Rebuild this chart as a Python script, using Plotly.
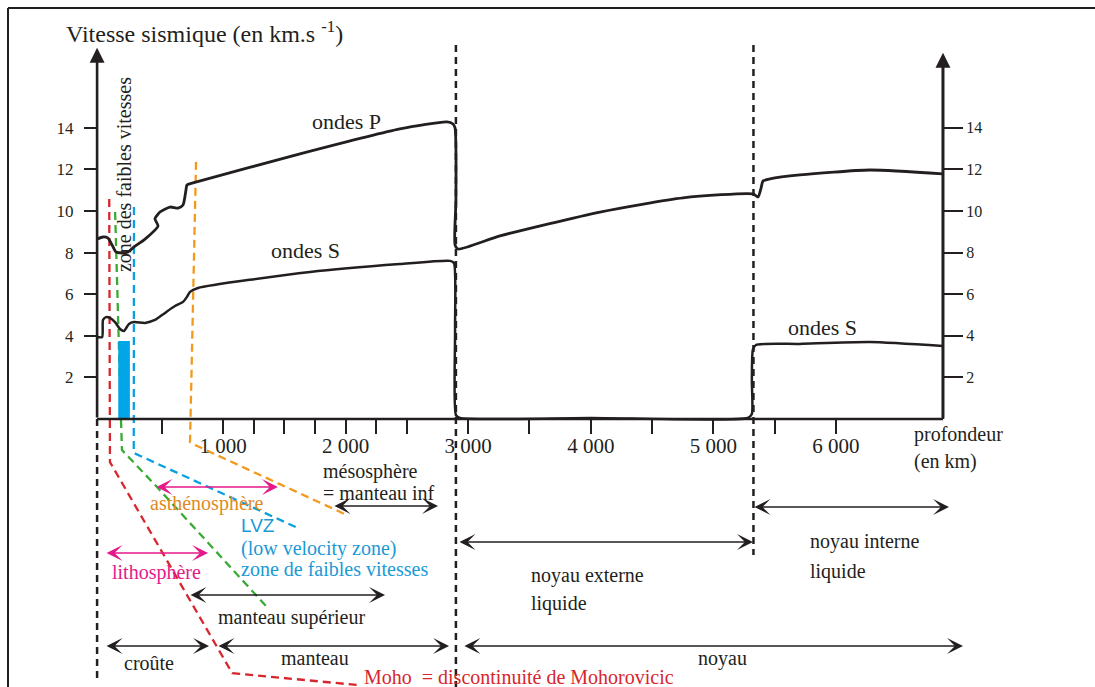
import plotly.graph_objects as go

# ---------------- data (depth in km, velocity in km/s) ----------------
p_depth = [-27, 21, 62, 95, 127, 176, 225, 274, 364, 470, 445, 486, 568, 633, 674, 698, 706, 755,
           1628, 2443, 2827, 2876, 2893, 2900, 2893, 2918, 3259, 4075, 4753, 5324, 5364, 5389, 5405,
           5462, 5706, 6277, 6873]
p_vel = [8.65, 8.75, 8.70, 8.37, 8.03, 7.98, 8.03, 8.27, 8.65, 9.28, 9.62, 9.95, 10.19, 10.14, 10.29,
         11.01, 11.25, 11.35, 12.74, 13.94, 14.28, 14.18, 13.99, 10.53, 8.37, 8.17, 8.8, 9.95, 10.63,
         10.82, 10.67, 11.1, 11.44, 11.54, 11.73, 11.97, 11.78]

s_depth = [-27, 14, 21, 46, 78, 119, 160, 192, 233, 274, 364, 445, 527, 608, 674, 706, 731, 796,
           1710, 2443, 2852, 2884, 2893, 2900, 2932, 4000, 5281, 5314, 5314, 5322, 5347, 5706, 6277, 6873]
s_vel = [3.94, 3.94, 4.76, 4.9, 4.86, 4.66, 4.33, 4.23, 4.57, 4.66, 4.62, 4.76, 5.1, 5.43, 5.63, 5.87,
         6.11, 6.3, 7.07, 7.45, 7.6, 7.5, 4.28, 0.19, 0.05, 0.05, 0.05, 0.24, 1.88, 3.32, 3.56, 3.61, 3.7, 3.51]

# guide lines (dashed, coloured)
moho_depth = [72, 72, 78, 1075, 2103]
moho_val = [10.58, -0.38, -2.07, -12.21, -12.79]
litho_depth = [120, 144, 168, 176, 462, 1359]
litho_val = [9.95, 4.28, -0.05, -1.49, -3.27, -9.04]
lvz_line_depth = [274, 272, 272, 347, 1611]
lvz_line_val = [10.19, 0, -1.63, -1.83, -5.24]
astheno_depth = [780, 731, 731, 772, 2012]
astheno_val = [12.36, 0.1, -1.11, -1.25, -4.62]

# low velocity zone bar
lvz_center = 193
lvz_width = 95
lvz_height = 3.75

# discontinuities
left_axis_depth = -27
right_axis_depth = 6873
cmb_depth = 2900
icb_depth = 5327

# ticks
y_ticks = [2, 4, 6, 8, 10, 12, 14]
x_ticks = [500, 1000, 1250, 1500, 1750, 2000, 2250, 2500, 3000, 3500, 4000, 4500, 5000, 5500, 6000]
x_tick_labels = ["", "1 000", "", "", "", "2 000", "", "", "3 000", "", "4 000", "", "5 000", "", "6 000"]

X_RANGE = [-819, 8113]
Y_RANGE = [-12.88, 20.14]

INK = "#231f20"
RED = "#d7262d"
GREEN = "#3aaa35"
BLUE = "#0aa0e0"
ORANGE = "#f39a1e"
MAGENTA = "#e5198a"
SERIF = "Liberation Serif"

fig = go.Figure()

# dashed black discontinuity lines
dash_black = "7px,5px"
fig.add_trace(go.Scatter(x=[left_axis_depth, left_axis_depth], y=[0, -12.55], mode="lines",
                         line=dict(color=INK, width=2.5, dash=dash_black)))
fig.add_trace(go.Scatter(x=[cmb_depth, cmb_depth], y=[17.98, Y_RANGE[0]], mode="lines",
                         line=dict(color=INK, width=2.5, dash=dash_black)))
fig.add_trace(go.Scatter(x=[icb_depth, icb_depth], y=[17.98, -6.54], mode="lines",
                         line=dict(color=INK, width=2.5, dash=dash_black)))

# coloured dashed guide lines
dash_col = "8px,5px"
for xs, ys, col in [(moho_depth, moho_val, RED), (litho_depth, litho_val, GREEN),
                    (lvz_line_depth, lvz_line_val, BLUE), (astheno_depth, astheno_val, ORANGE)]:
    fig.add_trace(go.Scatter(x=xs, y=ys, mode="lines", line=dict(color=col, width=2.3, dash=dash_col)))

# LVZ bar (filled rectangle drawn above the guide lines)
x0 = lvz_center - lvz_width / 2
x1 = lvz_center + lvz_width / 2
fig.add_trace(go.Scatter(x=[x0, x0, x1, x1, x0], y=[0, lvz_height, lvz_height, 0, 0], mode="lines",
                         fill="toself", fillcolor="#00a6e6", line=dict(width=0, color="#00a6e6")))

# velocity curves
fig.add_trace(go.Scatter(x=p_depth, y=p_vel, mode="lines",
                         line=dict(color=INK, width=2.8, shape="spline", smoothing=0.6)))
fig.add_trace(go.Scatter(x=s_depth, y=s_vel, mode="lines",
                         line=dict(color=INK, width=2.5, shape="spline", smoothing=0.6)))

# axes lines
fig.add_trace(go.Scatter(x=[left_axis_depth, right_axis_depth], y=[0, 0], mode="lines",
                         line=dict(color=INK, width=2.6)))
fig.add_trace(go.Scatter(x=[right_axis_depth, right_axis_depth], y=[0, 17.0], mode="lines",
                         line=dict(color=INK, width=2.6), yaxis="y2"))

annotations = []
# axis arrows
annotations.append(dict(x=left_axis_depth, y=17.84, ax=left_axis_depth, ay=0, xref="x", yref="y",
                        axref="x", ayref="y", text="", showarrow=True, arrowhead=2,
                        arrowwidth=2.6, arrowsize=1.15, arrowcolor=INK))
annotations.append(dict(x=right_axis_depth, y=17.6, ax=right_axis_depth, ay=0, xref="x", yref="y",
                        axref="x", ayref="y", text="", showarrow=True, arrowhead=2,
                        arrowwidth=2.6, arrowsize=1.15, arrowcolor=INK))


def darrow(x0, x1, y, col=INK):
    annotations.append(dict(x=x1, y=y, ax=x0, ay=y, xref="x", yref="y", axref="x", ayref="y",
                            text="", showarrow=True, arrowside="end+start", arrowhead=3,
                            startarrowhead=3, arrowwidth=1.4, arrowsize=1.9, startarrowsize=1.9,
                            arrowcolor=col))


darrow(445, 1448, -3.27, MAGENTA)       # asthénosphère
darrow(38, 878, -6.44, MAGENTA)         # lithosphère
darrow(723, 2322, -8.46)                # manteau supérieur
darrow(1897, 2754, -4.18)               # mésosphère
darrow(38, 886, -10.91)                 # croûte
darrow(951, 2844, -10.91)               # manteau
darrow(2957, 7036, -10.91)              # noyau
darrow(2917, 5323, -5.91)               # noyau externe
darrow(5323, 6922, -4.23)               # noyau interne


def label(x, y, text, size=20, color=INK, xanchor="left", family=SERIF, angle=0):
    annotations.append(dict(x=x, y=y, xref="x", yref="y", text=text, showarrow=False,
                            xanchor=xanchor, yanchor="middle", textangle=angle,
                            font=dict(family=family, size=size, color=color)))


label(-300, 18.6, "Vitesse sismique (en km.s <sup>-1</sup>)", size=24)
label(193, 11.73, "zone des faibles vitesses", size=20, xanchor="center", angle=-90)
label(2005, 14.28, "ondes P", size=22, xanchor="center")
label(1669, 8.08, "ondes S", size=22, xanchor="center")
label(5887, 4.42, "ondes S", size=22, xanchor="center")
label(6621, -0.75, "profondeur", size=20)
label(6621, -2.03, "(en km)", size=20)
label(1798, -2.5, "mésosphère", size=20)
label(1798, -3.56, "= manteau inf", size=20)
label(388, -4.04, "asthénosphère", size=20, color="#e08a1e")
label(1131, -5.1, "LVZ", size=19, color="#1a9ad6", family="Liberation Sans")
label(1131, -6.2, "(low velocity zone)", size=20, color="#1a9ad6")
label(1131, -7.21, "zone de faibles vitesses", size=20, color="#1a9ad6")
label(79, -7.4, "lithosphère", size=20, color=MAGENTA)
label(943, -9.52, "manteau supérieur", size=20)
label(175, -11.73, "croûte", size=20)
label(1457, -11.49, "manteau", size=20)
label(2135, -12.4, "Moho\u00a0 = discontinuité de Mohorovicic", size=20, color=RED)
label(3495, -7.5, "noyau externe", size=20)
label(3495, -8.85, "liquide", size=20)
label(5772, -5.87, "noyau interne", size=20)
label(5772, -7.31, "liquide", size=20)
label(5078, -11.49, "noyau", size=20, xanchor="center")

shapes = [
    dict(type="line", xref="paper", yref="paper", x0=8 / 1095, x1=1, y0=1 - 8 / 687, y1=1 - 8 / 687,
         line=dict(color=INK, width=2)),
    dict(type="line", xref="paper", yref="paper", x0=8 / 1095, x1=8 / 1095, y0=0, y1=1 - 8 / 687,
         line=dict(color=INK, width=2)),
]

fig.update_layout(
    width=1095, height=687,
    margin=dict(l=0, r=0, t=0, b=0),
    paper_bgcolor="white", plot_bgcolor="white",
    showlegend=False,
    annotations=annotations,
    shapes=shapes,
    xaxis=dict(range=X_RANGE, anchor="free", position=(687 - 419) / 687, side="bottom",
               tickmode="array", tickvals=x_ticks, ticktext=x_tick_labels,
               ticks="outside", ticklen=14, tickwidth=1.5, tickcolor=INK,
               showgrid=False, zeroline=False, showline=False, ticklabelstandoff=-6,
               tickfont=dict(family=SERIF, size=21, color=INK), fixedrange=True),
    yaxis=dict(range=Y_RANGE, anchor="free", position=97 / 1095, side="left",
               tickmode="array", tickvals=y_ticks, ticks="outside", ticklen=13, tickwidth=1.5,
               tickcolor=INK, showgrid=False, zeroline=False, showline=False,
               ticklabelstandoff=7,
               tickfont=dict(family=SERIF, size=17, color=INK), fixedrange=True),
    yaxis2=dict(range=Y_RANGE, anchor="free", position=943 / 1095, side="right", overlaying="y",
                tickmode="array", tickvals=y_ticks, ticks="outside", ticklen=19, tickwidth=1.5,
                tickcolor=INK, showgrid=False, zeroline=False, showline=False,
                tickfont=dict(family=SERIF, size=16, color=INK), fixedrange=True),
)

fig.write_html("out.html", config={"displayModeBar": False},
               post_script="document.body.style.margin='0px';")
